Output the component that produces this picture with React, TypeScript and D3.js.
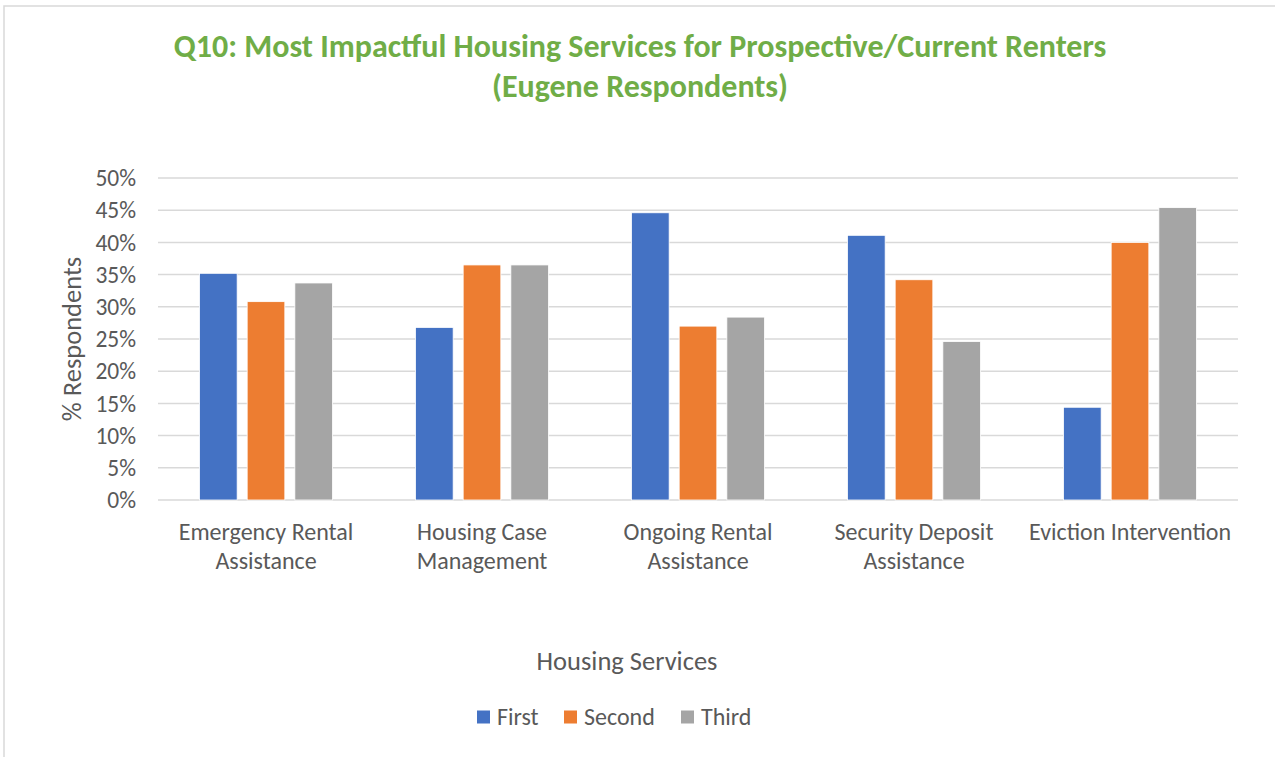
import React from 'react';
import * as d3 from 'd3';

const categories = [
  'Emergency Rental Assistance',
  'Housing Case Management',
  'Ongoing Rental Assistance',
  'Security Deposit Assistance',
  'Eviction Intervention',
];
// how Excel wrapped each category label
const categoryLines = [
  ['Emergency Rental', 'Assistance'],
  ['Housing Case', 'Management'],
  ['Ongoing Rental', 'Assistance'],
  ['Security Deposit', 'Assistance'],
  ['Eviction Intervention'],
];
const seriesNames = ['First', 'Second', 'Third'];
const seriesColors = ['#4472C4', '#ED7D31', '#A5A5A5'];
const first = [0.352, 0.268, 0.446, 0.411, 0.144];
const second = [0.308, 0.365, 0.27, 0.342, 0.4];
const third = [0.337, 0.365, 0.284, 0.246, 0.454];
const yTicks = [0, 0.05, 0.1, 0.15, 0.2, 0.25, 0.3, 0.35, 0.4, 0.45, 0.5];

const W = 1275;
const H = 757;
const FONT = "Calibri, Carlito, 'Open Sans', sans-serif";
const TEXT = '#595959';

const App: React.FC = () => {
  const margin = { top: 178, right: 37, bottom: 257, left: 158 };
  const plotW = W - margin.left - margin.right;
  const plotH = H - margin.top - margin.bottom;

  const series = [first, second, third];

  const x = d3.scaleBand<string>()
    .domain(categories)
    .range([0, plotW])
    .paddingInner(0)
    .paddingOuter(0);

  const inner = d3.scaleBand<string>()
    .domain(seriesNames)
    .range([0, x.bandwidth()])
    .paddingInner(0.21)
    .paddingOuter(0.87);

  const y = d3.scaleLinear().domain([0, 0.5]).range([plotH, 0]);
  const pct = d3.format('.0%');

  return (
    <svg width={W} height={H} style={{ position: 'absolute', left: 0, top: 0, background: 'white' }}
      fontFamily={FONT}>
      {/* chart frame */}
      <rect x={4} y={6} width={W + 10} height={H + 10} fill="white" stroke="#d9d9d9" strokeWidth={1.5} />

      <text x={640} y={57} textAnchor="middle" fill="#70AD47" fontWeight="bold" fontSize={32}>
        Q10: Most Impactful Housing Services for Prospective/Current Renters
      </text>
      <text x={640} y={97} textAnchor="middle" fill="#70AD47" fontWeight="bold" fontSize={32}>
        (Eugene Respondents)
      </text>

      <g transform={`translate(${margin.left},${margin.top})`}>
        {yTicks.map(t => (
          <g key={t}>
            <line x1={0} x2={plotW} y1={y(t)} y2={y(t)} stroke="#d9d9d9" strokeWidth={1.5} />
            <text x={-22} y={y(t)} dy="0.35em" textAnchor="end" fill={TEXT} fontSize={23.5}>{pct(t)}</text>
          </g>
        ))}

        {categories.map((c, ci) => (
          <g key={c} transform={`translate(${x(c)},0)`}>
            {series.map((s, si) => (
              <rect key={si}
                x={inner(seriesNames[si])}
                y={y(s[ci])}
                width={inner.bandwidth()}
                height={plotH - y(s[ci])}
                fill={seriesColors[si]}
                stroke="white"
                strokeWidth={0.8}
              />
            ))}
            {categoryLines[ci].map((ln, li) => (
              <text key={li} x={x.bandwidth() / 2} y={plotH + 32 + li * 29} dy="0.35em"
                textAnchor="middle" fill={TEXT} fontSize={24}>{ln}</text>
            ))}
          </g>
        ))}
      </g>

      <text transform={`translate(72,${margin.top + plotH / 2}) rotate(-90)`} textAnchor="middle"
        dy="0.35em" fill={TEXT} fontSize={26.5}>% Respondents</text>

      <text x={627} y={661} dy="0.35em" textAnchor="middle" fill={TEXT} fontSize={26.5}>Housing Services</text>

      {/* legend */}
      <g transform="translate(477,717)">
        {seriesNames.map((n, i) => {
          const offs = [0, 87, 204];
          return (
            <g key={n} transform={`translate(${offs[i]},0)`}>
              <rect x={0} y={-6.5} width={13} height={13} fill={seriesColors[i]} />
              <text x={20} y={0} dy="0.35em" fill={TEXT} fontSize={24}>{n}</text>
            </g>
          );
        })}
      </g>
    </svg>
  );
};

export default App;
